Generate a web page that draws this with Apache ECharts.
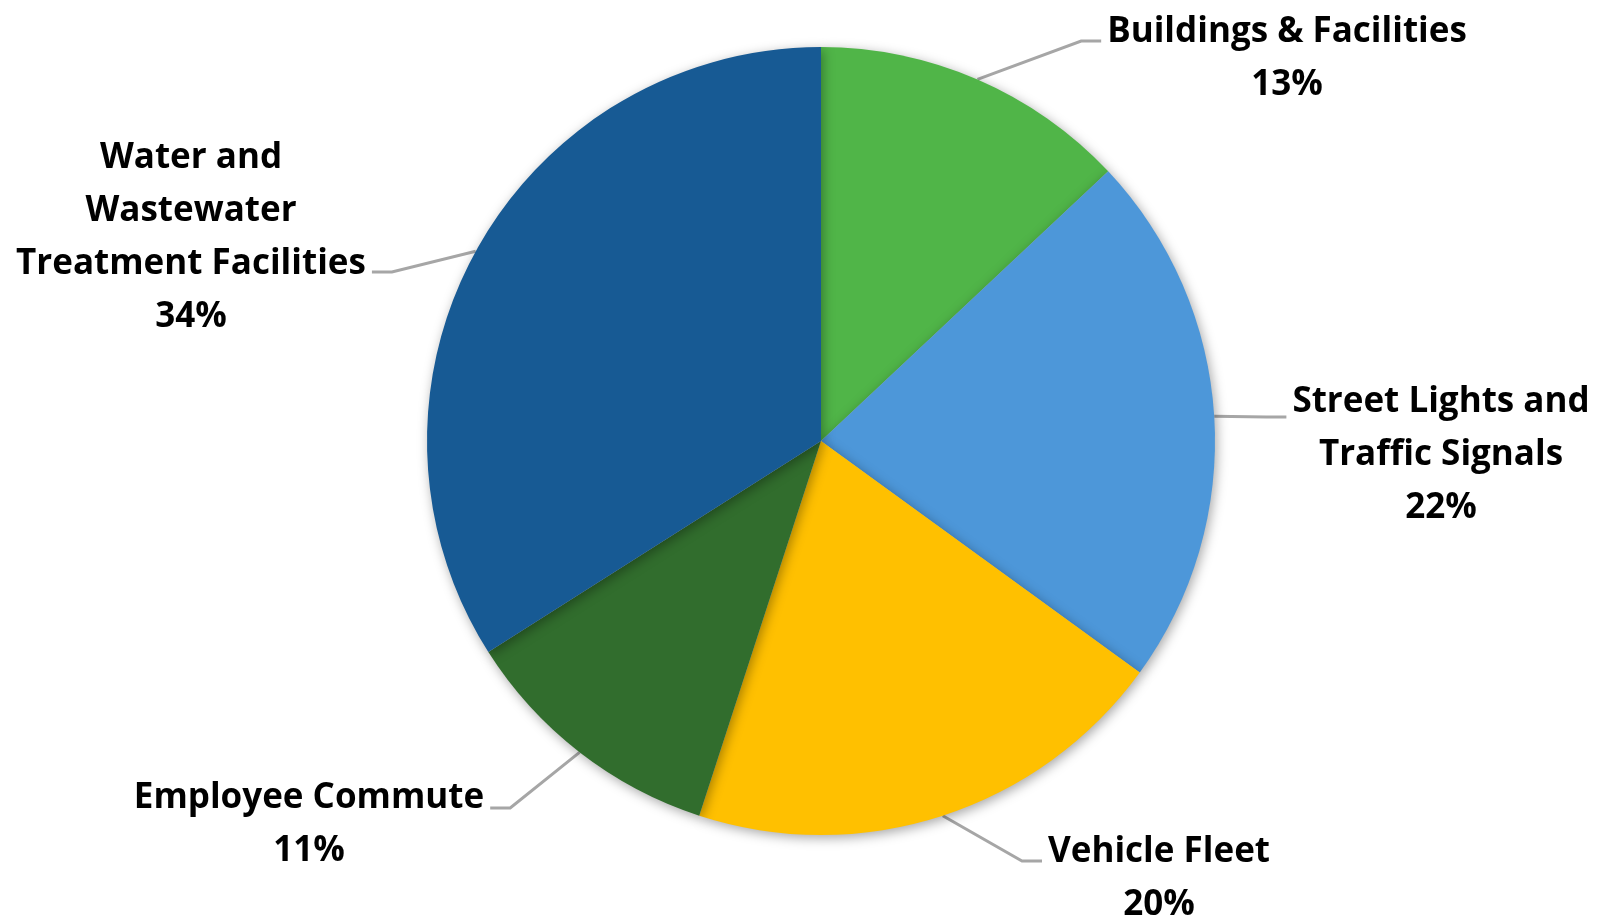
<!DOCTYPE html>
<html>
<head>
<meta charset="utf-8">
<script src="https://cdn.jsdelivr.net/npm/echarts@6/dist/echarts.min.js"></script>
<style>
html,body{margin:0;padding:0;background:#fff;}
#chart{width:1601px;height:917px;}
</style>
</head>
<body>
<div id="chart"></div>
<script>
// Data
const categories = [
  'Buildings & Facilities',
  'Street Lights and\nTraffic Signals',
  'Vehicle Fleet',
  'Employee Commute',
  'Water and\nWastewater\nTreatment Facilities'
];
const values = [13, 22, 20, 11, 34];

// Styles (kept separate from data)
const colors = ['#50b548', '#4d97d9', '#ffc000', '#316d2d', '#175a94'];
// label block centres (pixels)
const labelPos = [
  [1287, 59],
  [1441, 455],
  [1159, 879],
  [309, 825],
  [191, 238]
];
// vertical offset of the leader-line attachment from the label block centre
const attachDy = [-18, -38, -18, -17, 34];
const LINE_H = 53;

const chart = echarts.init(document.getElementById('chart'), null, {renderer: 'canvas'});
chart.setOption({
  backgroundColor: '#ffffff',
  animation: false,
  series: [{
    type: 'pie',
    center: [821, 441],
    radius: 394,
    startAngle: 90,
    clockwise: true,
    data: categories.map((c, i) => ({
      name: c, value: values[i],
      itemStyle: { color: colors[i] }
    })),
    itemStyle: {
      shadowBlur: 12,
      shadowColor: 'rgba(0,0,0,0.35)',
      shadowOffsetX: 2,
      shadowOffsetY: 3
    },
    label: {
      show: true,
      position: 'outside',
      formatter: p => p.name + '\n' + Math.round(p.percent) + '%',
      fontFamily: 'Open Sans',
      fontWeight: 'bold',
      fontSize: 35,
      lineHeight: LINE_H,
      color: '#000',
      align: 'center'
    },
    labelLine: {
      show: true,
      length: 30,
      length2: 20,
      lineStyle: { color: '#a6a6a6', width: 3 }
    },
    labelLayout: function (params) {
      const i = params.dataIndex;
      const p = labelPos[i];
      const out = { x: p[0], y: p[1], align: 'center', verticalAlign: 'middle' };
      const pts = params.labelLinePoints;
      if (pts && pts.length) {
        const start = pts[0];
        const w = params.labelRect.width;
        const lineY = p[1] + attachDy[i];
        const right = start[0] > 821;
        const edgeX = right ? p[0] - w / 2 - 6 : p[0] + w / 2 + 6;
        const elbowX = right ? edgeX - 20 : edgeX + 20;
        out.labelLinePoints = [start, [elbowX, lineY], [edgeX, lineY]];
      }
      return out;
    },
    emphasis: { disabled: true }
  }]
});
</script>
</body>
</html>
